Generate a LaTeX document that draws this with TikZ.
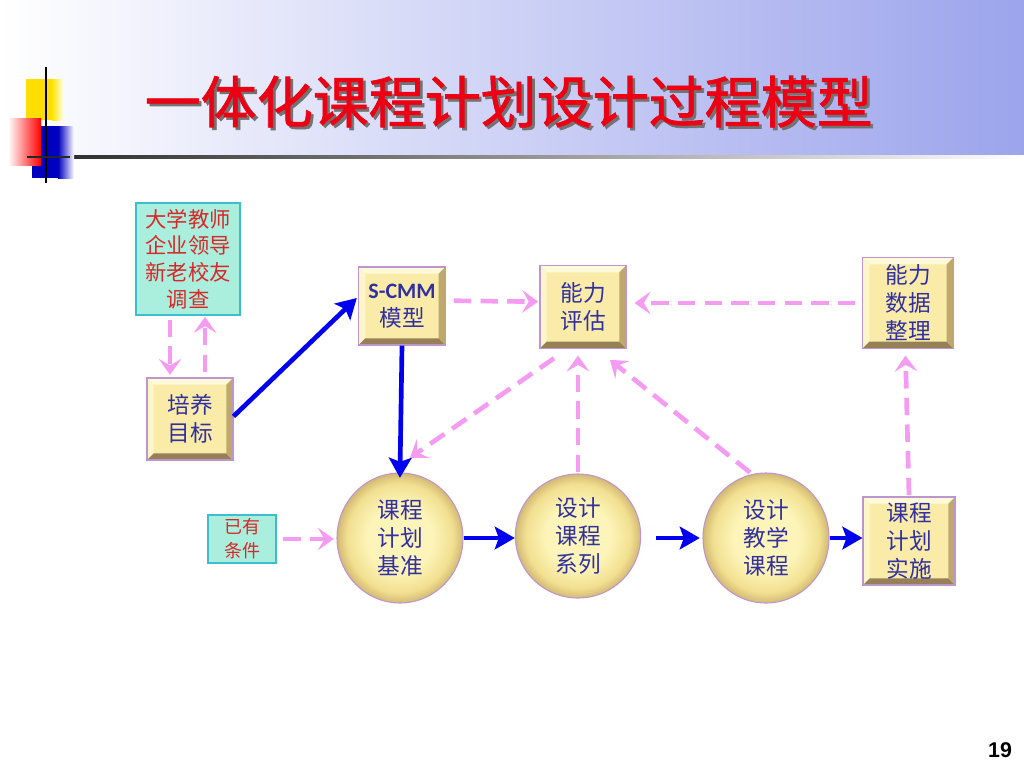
\documentclass[tikz,border=0pt]{standalone}
\usepackage{fontspec}
\setmainfont{Liberation Sans}
\newfontfamily\cjk{Noto Sans CJK SC}
\newfontfamily\cjktitle[FakeBold=1.2]{Noto Sans CJK SC}
\newfontfamily\calib{Carlito}
\usetikzlibrary{shapes.geometric,arrows.meta}
\definecolor{bandblue}{RGB}{156,164,236}
\definecolor{titlered}{RGB}{235,0,20}
\definecolor{nodeblue}{RGB}{48,48,160}
\definecolor{notered}{RGB}{215,40,40}
\definecolor{notefill}{RGB}{170,238,222}
\definecolor{noterim}{RGB}{60,190,205}
\definecolor{boxfill}{RGB}{250,236,168}
\definecolor{bevlight}{RGB}{255,250,218}
\definecolor{bevdark}{RGB}{150,128,88}
\definecolor{bevside}{RGB}{190,168,110}
\definecolor{boxrim}{RGB}{190,150,205}
\definecolor{eggin}{RGB}{252,244,184}
\definecolor{eggmid}{RGB}{242,224,145}
\definecolor{eggout}{RGB}{210,185,115}
\definecolor{flowblue}{RGB}{0,0,240}
\definecolor{linkpink}{RGB}{245,155,242}
\pgfdeclareradialshading{eggshade}{\pgfpointorigin}{color(0bp)=(eggin); color(13bp)=(eggin); color(21bp)=(eggmid); color(25bp)=(eggout); color(50bp)=(eggout)}
\newcommand{\titletext}{一体化课程计划设计过程模型}
\tikzset{
  bevelbox/.style={rectangle, fill=boxfill, draw=boxrim, line width=0.8pt,
    text=nodeblue, align=center, inner sep=0pt,
    font=\cjk\fontsize{17}{21}\selectfont,
    path picture={
      \fill[bevlight] (path picture bounding box.north west) -- (path picture bounding box.north east)
        -- ([shift={(-5pt,-5pt)}]path picture bounding box.north east)
        -- ([shift={(5pt,-5pt)}]path picture bounding box.north west) -- cycle;
      \fill[bevlight!70!boxfill] (path picture bounding box.north west) -- (path picture bounding box.south west)
        -- ([shift={(5pt,5pt)}]path picture bounding box.south west)
        -- ([shift={(5pt,-5pt)}]path picture bounding box.north west) -- cycle;
      \fill[bevdark] (path picture bounding box.south west) -- (path picture bounding box.south east)
        -- ([shift={(-5pt,5pt)}]path picture bounding box.south east)
        -- ([shift={(5pt,5pt)}]path picture bounding box.south west) -- cycle;
      \fill[bevside] (path picture bounding box.north east) -- (path picture bounding box.south east)
        -- ([shift={(-5pt,5pt)}]path picture bounding box.south east)
        -- ([shift={(-5pt,-5pt)}]path picture bounding box.north east) -- cycle;
    }},
  egg/.style={ellipse, shading=eggshade, draw=boxrim, line width=0.8pt,
    text=nodeblue, align=center, inner sep=0pt,
    font=\cjk\fontsize{17}{21}\selectfont},
  notebox/.style={rectangle, fill=notefill, draw=noterim, line width=0.8pt,
    text=notered, align=center, inner sep=0pt},
  flow/.style={draw=flowblue, line width=3.5pt, -{Stealth[length=15pt,width=17pt,inset=3pt]}},
  feedback/.style={draw=linkpink, line width=3.5pt, dash pattern=on 13pt off 7pt,
    -{Stealth[length=12pt,width=17pt,inset=5pt]}}
}
\begin{document}
\begin{tikzpicture}[x=0.75pt,y=-0.75pt]
\useasboundingbox (0,0) rectangle (1024,768);
\fill[white] (0,0) rectangle (1024,768);
\shade[left color=white,right color=bandblue] (0,0) rectangle (1024,154);
\shade[left color=black!85,right color=white] (27,155.5) rectangle (1024,158.5);
\fill[yellow!80!orange] (26,79) rectangle (52,120);
\shade[left color=yellow!80!orange,right color=white] (52,79) rectangle (64,120);
\fill[blue!75!black] (32,126) rectangle (58,178);
\shade[left color=blue!75!black,right color=white] (58,126) rectangle (74,178);
\shade[left color=white,right color=red] (8,118) rectangle (41,165);
\draw[black, line width=1.6pt] (46,67) -- (46,183);
\draw[black!85, line width=2.2pt] (27,157) -- (70,157);

\node (title) [anchor=west, text=titlered, font=\cjktitle\fontsize{42}{42}\selectfont] at (140,103)
  {\rlap{\raisebox{-2pt}{\hspace{2pt}\textcolor{black!55}{\titletext}}}\titletext};

\node (survey) [notebox, minimum width=78pt, minimum height=84pt, font=\cjk\fontsize{16}{20}\selectfont] at (188,259) {大学教师\\企业领导\\新老校友\\调查};
\node (goal) [bevelbox, minimum width=64.5pt, minimum height=61.5pt] at (190,419) {培养\\目标};
\node (scmm) [bevelbox, minimum width=65pt, minimum height=58.5pt] at (402,306) {{\calib\bfseries\fontsize{16.5}{21}\selectfont S-CMM}\\模型};
\node (assess) [bevelbox, minimum width=64.5pt, minimum height=62pt] at (583,307) {能力\\评估};
\node (data) [bevelbox, minimum width=68pt, minimum height=68pt] at (908,303) {能力\\数据\\整理};
\node (cond) [notebox, minimum width=51pt, minimum height=36pt, font=\cjk\fontsize{13.5}{18}\selectfont] at (242,539) {已有\\条件};
\node (base) [egg, minimum width=94.5pt, minimum height=97.5pt] at (400,538) {课程\\计划\\基准};
\node (series) [egg, minimum width=94pt, minimum height=93pt] at (578,536) {设计\\课程\\系列};
\node (teach) [egg, minimum width=94.5pt, minimum height=97.5pt] at (766,538) {设计\\教学\\课程};
\node (impl) [bevelbox, minimum width=69pt, minimum height=66pt] at (909,541) {课程\\计划\\实施};

\node (pagenum) at (1000,750) {\fontsize{16}{16}\selectfont\bfseries 19};

\draw[flow] ([yshift=2pt]goal.east) -- ([shift={(-1pt,6pt)}]scmm.west);
\draw[flow, shorten >=-4pt] (scmm.south) -- (base.north);
\draw[flow] (base.east) -- (base.east -| series.west);
\draw[flow, shorten <=11pt, shorten >=2pt] (series.east |- base.east) -- (teach.west);
\draw[flow] (teach.east) -- (teach.east -| impl.west);

\draw[feedback, shorten <=6pt, shorten >=1pt] ([yshift=4pt]scmm.east) -- ([yshift=4pt]assess.west);
\draw[feedback, shorten <=5pt, shorten >=6pt] (data.west) -- (data.west -| assess.east);
\draw[feedback] ([shift={(11pt,-7pt)}]assess.south west) -- ([shift={(7.5pt,11pt)}]base.north);
\draw[feedback, shorten <=1pt, shorten >=5pt] (series.north) -- (series.north |- assess.south);
\draw[feedback, shorten >=2pt] ([xshift=-12pt]teach.north) -- ([shift={(-14pt,-7pt)}]assess.south east);
\draw[feedback, shorten <=1pt, shorten >=5pt] (impl.north) -- ([xshift=-2pt]data.south);
\draw[feedback, shorten <=3pt, shorten >=2pt] ([xshift=-13.5pt]survey.south) -- ([xshift=-15pt]goal.north);
\draw[feedback, shorten <=4pt, shorten >=1pt] ([xshift=11.25pt]goal.north) -- ([xshift=12.75pt]survey.south);
\draw[feedback, shorten <=5pt, shorten >=2pt] (cond.east) -- (cond.east -| base.west);
\end{tikzpicture}
\end{document}
